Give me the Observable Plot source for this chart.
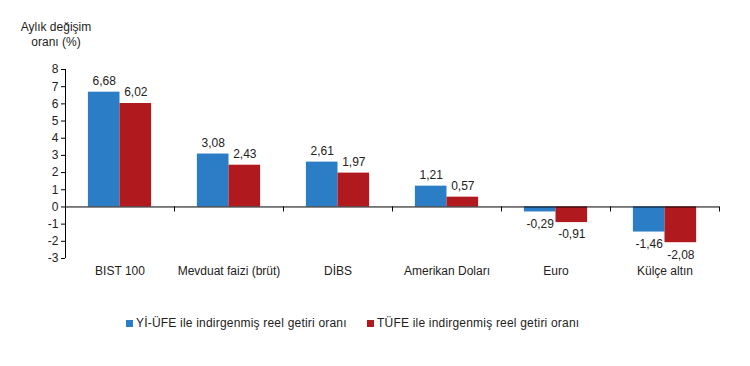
<!DOCTYPE html>
<html><head><meta charset="utf-8">
<script src="https://cdn.jsdelivr.net/npm/d3@7"></script>
<script src="https://cdn.jsdelivr.net/npm/@observablehq/plot@0.6"></script>
<style>
body{margin:0;background:#fff;font-family:"Liberation Sans",Arial,sans-serif;}
#wrap{position:relative;width:750px;height:366px;}
#title{position:absolute;left:0;width:112px;top:20px;text-align:center;font-size:12px;line-height:15px;color:#222;}
#chart{position:absolute;left:0;top:0;}
#legend{position:absolute;top:316px;left:0;width:750px;font-size:12px;color:#222;letter-spacing:0.2px;}
.item{position:absolute;top:0;white-space:nowrap;}
.sw{display:inline-block;width:7px;height:7px;margin-right:3px;vertical-align:0px;}
</style></head>
<body><div id="wrap">
<div id="chart"></div>
<div id="title">Aylık değişim<br>oranı (%)</div>
<div id="legend"></div>
</div>
<script>
const categories = ["BIST 100", "Mevduat faizi (brüt)", "DİBS", "Amerikan Doları", "Euro", "Külçe altın"];
const seriesNames = ["Yİ-ÜFE ile indirgenmiş reel getiri oranı", "TÜFE ile indirgenmiş reel getiri oranı"];
const yiUfe = [6.68, 3.08, 2.61, 1.21, -0.29, -1.46];
const tufe = [6.02, 2.43, 1.97, 0.57, -0.91, -2.08];
const yTicks = [-3, -2, -1, 0, 1, 2, 3, 4, 5, 6, 7, 8];
const colors = ["#2B7DC6", "#B0191E"];

const rows = [];
categories.forEach((c, i) => {
  rows.push({cat: c, i, s: 0, v: yiUfe[i]});
  rows.push({cat: c, i, s: 1, v: tufe[i]});
});
const fmt = v => v.toFixed(2).replace(".", ",");
const bounds = d3.range(categories.length + 1).slice(1);
const gap = 0.21;
const half = (0.5 - gap) / 2;
const cx = d => d.i + (d.s === 0 ? gap + half : 0.5 + half);

const chart = Plot.plot({
  width: 750, height: 290,
  marginTop: 69, marginBottom: 32, marginLeft: 65, marginRight: 31,
  style: {fontFamily: "'Liberation Sans', Arial, sans-serif", fontSize: "12px", color: "#222"},
  x: {type: "linear", domain: [0, categories.length], axis: null},
  y: {domain: [-3, 8], axis: null},
  marks: [
    Plot.rectY(rows, {
      x1: d => d.i + (d.s === 0 ? gap : 0.5),
      x2: d => d.i + (d.s === 0 ? 0.5 : 1 - gap),
      y1: 0, y2: "v",
      fill: d => colors[d.s]
    }),
    Plot.ruleY([0], {stroke: "#000", strokeWidth: 1}),
    Plot.ruleX(bounds, {x: d => d, y1: 0, y2: 0, insetBottom: -5, stroke: "#000"}),
    Plot.ruleX([0], {y1: yTicks[0], y2: yTicks[yTicks.length - 1], stroke: "#000"}),
    Plot.axisY({ticks: yTicks, label: null, tickSize: 4, tickPadding: 3, tickFormat: d => String(d), stroke: "#000", fill: "#222", fontSize: 12}),
    Plot.text(rows.filter(d => d.v >= 0), {x: cx, y: "v", text: d => fmt(d.v), dy: -11, fill: "#222", fontSize: 12}),
    Plot.text(rows.filter(d => d.v < 0), {x: cx, y: "v", text: d => fmt(d.v), dy: 12, fill: "#222", fontSize: 12}),
    Plot.text(categories, {x: (d, i) => i + 0.5, y: yTicks[0], dy: 13, text: d => d, fill: "#222", fontSize: 12})
  ]
});
document.getElementById("chart").append(chart);

const legend = document.getElementById("legend");
const lx = [126, 367];
seriesNames.forEach((n, k) => {
  const it = document.createElement("div");
  it.className = "item";
  it.style.left = lx[k] + "px";
  it.innerHTML = `<span class="sw" style="background:${colors[k]}"></span>${n}`;
  legend.append(it);
});
</script>
</body></html>
